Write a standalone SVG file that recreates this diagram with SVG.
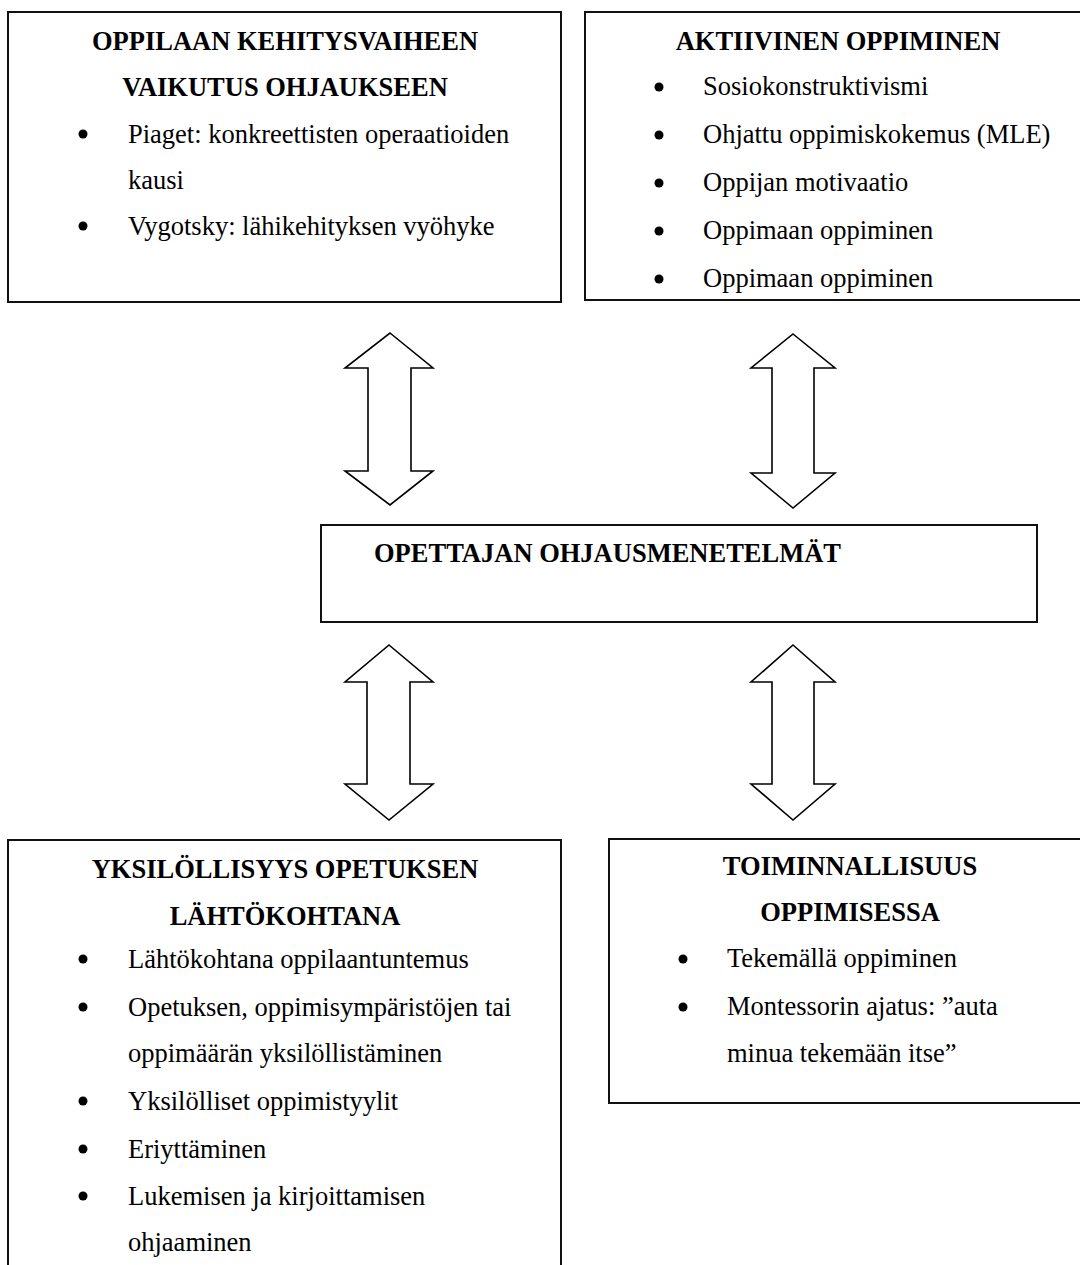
<svg xmlns="http://www.w3.org/2000/svg" width="1080" height="1265" viewBox="0 0 1080 1265">
<style>
.box{fill:#fff;stroke:#111;stroke-width:2}
.arr{fill:#fff;stroke:#000;stroke-width:1.6;stroke-linejoin:miter}
text{font-family:"Liberation Serif","Times New Roman",serif;font-size:26.5px;fill:#000}
.t{font-weight:bold;text-anchor:middle}
.dot{fill:#000}
</style>
<rect width="1080" height="1265" fill="#fff"/>
<g id="connectors">
<path class="arr" d="M390,333 L433,368 L411,368 L411,471 L433,471 L390,505 L345,471 L368,471 L368,368 L345,368 Z"/>
<path class="arr" d="M793,334 L835,368 L814,368 L814,473 L835,473 L793,508 L751,473 L772,473 L772,368 L751,368 Z"/>
<path class="arr" d="M389,645 L433,682 L410,682 L410,784 L433,784 L389,820 L345,784 L367,784 L367,682 L345,682 Z"/>
<path class="arr" d="M793,645 L835,682 L814,682 L814,784 L835,784 L793,820 L751,784 L772,784 L772,682 L751,682 Z"/>
</g>
<g id="node-kehitysvaihe">
<rect class="box" x="8" y="12" width="553" height="290"/>
<text class="t" x="285" y="50">OPPILAAN KEHITYSVAIHEEN</text>
<text class="t" x="285" y="96">VAIKUTUS OHJAUKSEEN</text>
<circle class="dot" cx="83" cy="134" r="4.5"/><text x="128" y="143">Piaget: konkreettisten operaatioiden</text>
<text x="128" y="189">kausi</text>
<circle class="dot" cx="83" cy="226" r="4.5"/><text x="128" y="235">Vygotsky: lähikehityksen vyöhyke</text>
</g>
<g id="node-aktiivinen">
<rect class="box" x="585" y="12" width="510" height="288"/>
<text class="t" x="838" y="50">AKTIIVINEN OPPIMINEN</text>
<circle class="dot" cx="659" cy="87" r="4.5"/><text x="703" y="95">Sosiokonstruktivismi</text>
<circle class="dot" cx="659" cy="135" r="4.5"/><text x="703" y="143">Ohjattu oppimiskokemus (MLE)</text>
<circle class="dot" cx="659" cy="183" r="4.5"/><text x="703" y="191">Oppijan motivaatio</text>
<circle class="dot" cx="659" cy="231" r="4.5"/><text x="703" y="239">Oppimaan oppiminen</text>
<circle class="dot" cx="659" cy="279" r="4.5"/><text x="703" y="287">Oppimaan oppiminen</text>
</g>
<g id="node-opettaja">
<rect class="box" x="321" y="525" width="716" height="97"/>
<text x="374" y="562" font-weight="bold">OPETTAJAN OHJAUSMENETELMÄT</text>
</g>
<g id="node-yksilollisyys">
<rect class="box" x="8" y="840" width="553" height="450"/>
<text class="t" x="285" y="878">YKSILÖLLISYYS OPETUKSEN</text>
<text class="t" x="285" y="925">LÄHTÖKOHTANA</text>
<circle class="dot" cx="83" cy="959" r="4.5"/><text x="128" y="968">Lähtökohtana oppilaantuntemus</text>
<circle class="dot" cx="83" cy="1007" r="4.5"/><text x="128" y="1016">Opetuksen, oppimisympäristöjen tai</text>
<text x="128" y="1062">oppimäärän yksilöllistäminen</text>
<circle class="dot" cx="83" cy="1101" r="4.5"/><text x="128" y="1110">Yksilölliset oppimistyylit</text>
<circle class="dot" cx="83" cy="1149" r="4.5"/><text x="128" y="1158">Eriyttäminen</text>
<circle class="dot" cx="83" cy="1196" r="4.5"/><text x="128" y="1205">Lukemisen ja kirjoittamisen</text>
<text x="128" y="1251">ohjaaminen</text>
</g>
<g id="node-toiminnallisuus">
<rect class="box" x="609" y="839" width="490" height="264"/>
<text class="t" x="850" y="875">TOIMINNALLISUUS</text>
<text class="t" x="850" y="921">OPPIMISESSA</text>
<circle class="dot" cx="683" cy="959" r="4.5"/><text x="727" y="967">Tekemällä oppiminen</text>
<circle class="dot" cx="683" cy="1007" r="4.5"/><text x="727" y="1015">Montessorin ajatus: ”auta</text>
<text x="727" y="1062">minua tekemään itse”</text>
</g>
</svg>
